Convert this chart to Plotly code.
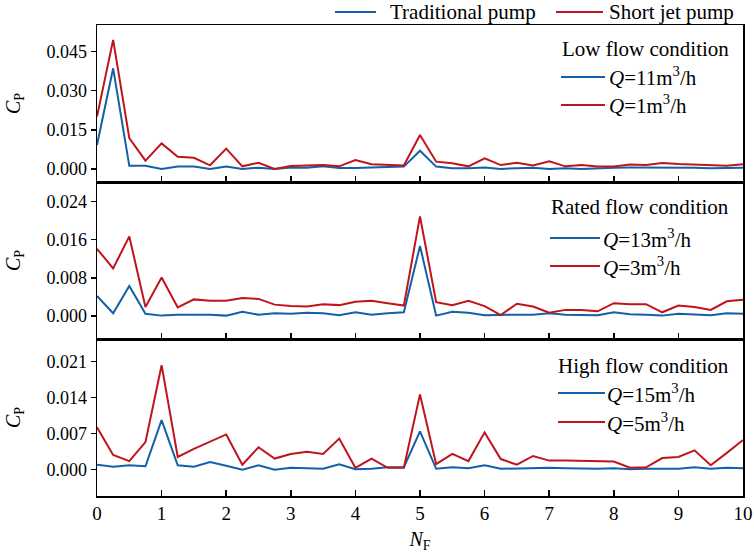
import plotly.graph_objects as go
from plotly.subplots import make_subplots

NF = [0, 0.25, 0.5, 0.75, 1, 1.25, 1.5, 1.75, 2, 2.25, 2.5, 2.75, 3, 3.25, 3.5, 3.75,
      4, 4.25, 4.5, 4.75, 5, 5.25, 5.5, 5.75, 6, 6.25, 6.5, 6.75, 7, 7.25, 7.5, 7.75,
      8, 8.25, 8.5, 8.75, 9, 9.25, 9.5, 9.75, 10]

low_trad = [0.0092, 0.0386, 0.0012, 0.0012, 0.0000,
            0.0009, 0.0009, 0.0000, 0.0009,
            0.0000, 0.0005, 0.0000, 0.0006,
            0.0005, 0.0010, 0.0004, 0.0004,
            0.0006, 0.0009, 0.0009, 0.0070,
            0.0009, 0.0003, 0.0003, 0.0006,
            0.0000, 0.0003, 0.0005, 0.0000,
            0.0003, 0.0000, 0.0003, 0.0005,
            0.0006, 0.0006, 0.0006, 0.0006,
            0.0005, 0.0003, 0.0003, 0.0005]
low_short = [0.0201, 0.0495, 0.0118, 0.0032, 0.0098,
             0.0047, 0.0043, 0.0014, 0.0078,
             0.0010, 0.0024, 0.0000, 0.0011,
             0.0013, 0.0015, 0.0010, 0.0034,
             0.0018, 0.0015, 0.0013, 0.0130,
             0.0028, 0.0022, 0.0010, 0.0041,
             0.0015, 0.0024, 0.0013, 0.0029,
             0.0010, 0.0015, 0.0009, 0.0009,
             0.0017, 0.0015, 0.0023, 0.0019,
             0.0017, 0.0013, 0.0012, 0.0018]

rated_trad = [0.0042, 0.0006, 0.0063, 0.0005, 0.0001,
              0.0003, 0.0003, 0.0003, 0.0001,
              0.0009, 0.0003, 0.0006, 0.0005,
              0.0007, 0.0006, 0.0002, 0.0008,
              0.0003, 0.0006, 0.0008, 0.0147,
              0.0001, 0.0009, 0.0007, 0.0002,
              0.0003, 0.0003, 0.0003, 0.0006,
              0.0003, 0.0002, 0.0002, 0.0008,
              0.0004, 0.0003, 0.0001, 0.0005,
              0.0003, 0.0002, 0.0006, 0.0005]
rated_short = [0.0141, 0.0100, 0.0167, 0.0019, 0.0081,
               0.0018, 0.0035, 0.0032, 0.0032,
               0.0038, 0.0036, 0.0024, 0.0021,
               0.0020, 0.0025, 0.0023, 0.0030,
               0.0032, 0.0027, 0.0022, 0.0209,
               0.0029, 0.0023, 0.0032, 0.0021,
               0.0002, 0.0026, 0.0020, 0.0007,
               0.0013, 0.0013, 0.0010, 0.0027,
               0.0025, 0.0025, 0.0008, 0.0022,
               0.0019, 0.0013, 0.0031, 0.0034]

high_trad = [0.0009, 0.0005, 0.0008, 0.0006, 0.0096,
             0.0008, 0.0005, 0.0014, 0.0007,
             -0.0001, 0.0008, -0.0001, 0.0003,
             0.0002, 0.0001, 0.0010, 0.0000,
             0.0001, 0.0004, 0.0004, 0.0074,
             0.0001, 0.0004, 0.0002, 0.0008,
             0.0001, 0.0002, 0.0003, 0.0003,
             0.0002, 0.0001, 0.0001, 0.0002,
             0.0000, 0.0001, 0.0001, 0.0001,
             0.0004, 0.0001, 0.0003, 0.0002]
high_short = [0.0082, 0.0028, 0.0016, 0.0053, 0.0203,
              0.0024, 0.0040, 0.0054, 0.0068,
              0.0009, 0.0043, 0.0021, 0.0030,
              0.0034, 0.0030, 0.0060, 0.0003,
              0.0021, 0.0003, 0.0003, 0.0146,
              0.0010, 0.0030, 0.0016, 0.0072,
              0.0020, 0.0009, 0.0026, 0.0017,
              0.0017, 0.0016, 0.0015, 0.0015,
              0.0003, 0.0004, 0.0022, 0.0024,
              0.0037, 0.0008, 0.0032, 0.0057]

series_names = ["Traditional pump", "Short jet pump"]
panel_titles = ["Low flow condition", "Rated flow condition", "High flow condition"]
trad_labels = ["<i>Q</i>=11m<sup>3</sup>/h", "<i>Q</i>=13m<sup>3</sup>/h", "<i>Q</i>=15m<sup>3</sup>/h"]
short_labels = ["<i>Q</i>=1m<sup>3</sup>/h", "<i>Q</i>=3m<sup>3</sup>/h", "<i>Q</i>=5m<sup>3</sup>/h"]
y_ranges = [[-0.005, 0.0552], [-0.0048, 0.0281], [-0.0052, 0.0254]]
y_dticks = [0.015, 0.008, 0.007]

BLUE = "#1460a8"
RED = "#c0141c"
FONT = "Liberation Serif"
W, H = 754, 557
ML, MR, MT, MB = 97, 11, 25, 61
PW, PH = W - ML - MR, H - MT - MB


def px(xp):
    return (xp - ML) / PW


def py(yp):
    return (H - MB - yp) / PH


fig = make_subplots(rows=3, cols=1, shared_xaxes=True, vertical_spacing=0)

series = [(low_trad, low_short), (rated_trad, rated_short), (high_trad, high_short)]
for i, (tr, sh) in enumerate(series):
    fig.add_trace(go.Scatter(x=NF, y=tr, mode="lines", name=trad_labels[i],
                             line=dict(color=BLUE, width=2), showlegend=False),
                  row=i + 1, col=1)
    fig.add_trace(go.Scatter(x=NF, y=sh, mode="lines", name=short_labels[i],
                             line=dict(color=RED, width=2), showlegend=False),
                  row=i + 1, col=1)

for i in range(3):
    fig.update_yaxes(row=i + 1, col=1, range=y_ranges[i], tick0=0, dtick=y_dticks[i],
                     tickformat=".3f", ticks="outside", ticklen=5, tickwidth=1.5,
                     tickcolor="black", showline=True, linecolor="black", linewidth=1.5,
                     mirror=True, showgrid=False, zeroline=False, automargin=False,
                     tickfont=dict(family=FONT, size=18, color="black"),
                     title=dict(text="<i>C</i><sub>P</sub>", standoff=20,
                                font=dict(family=FONT, size=20, color="black")))
    fig.update_xaxes(row=i + 1, col=1, range=[0, 10], tick0=0, dtick=1,
                     ticks="inside", ticklen=6, tickwidth=1.5, tickcolor="black",
                     showline=True, linecolor="black", linewidth=1.5, mirror=True,
                     showgrid=False, zeroline=False, automargin=False,
                     tickfont=dict(family=FONT, size=19, color="black"))
fig.update_xaxes(row=3, col=1, title=dict(text="<i>N</i><sub>F</sub>", standoff=8,
                                          font=dict(family=FONT, size=20, color="black")))

shapes = []
annotations = []
LFS = 21


def leg_item(x0, x1, y, color, text, tx):
    shapes.append(dict(type="line", xref="paper", yref="paper",
                       x0=px(x0), x1=px(x1), y0=py(y), y1=py(y),
                       line=dict(color=color, width=2)))
    annotations.append(dict(xref="paper", yref="paper", x=px(tx), y=py(y),
                            text=text, showarrow=False, xanchor="left", yanchor="middle",
                            font=dict(family=FONT, size=LFS, color="black")))


# top legend
leg_item(335, 376, 12, BLUE, series_names[0], 388)
leg_item(556, 603, 12, RED, series_names[1], 607)

# panel legends
title_y = [49, 207, 366]
item_y = [(77, 105), (238, 266), (393, 422)]
line_x = [(561, 605), (550, 600), (558, 605)]
text_x = [607, 601, 605]
for i in range(3):
    annotations.append(dict(xref="paper", yref="paper", x=px(731), y=py(title_y[i]),
                            text=panel_titles[i], showarrow=False,
                            xanchor="right", yanchor="middle",
                            font=dict(family=FONT, size=LFS, color="black")))
    leg_item(line_x[i][0], line_x[i][1], item_y[i][0], BLUE, trad_labels[i], text_x[i])
    leg_item(line_x[i][0], line_x[i][1], item_y[i][1], RED, short_labels[i], text_x[i])

fig.update_layout(
    width=W, height=H, autosize=False,
    margin=dict(l=ML, r=MR, t=MT, b=MB, autoexpand=False),
    plot_bgcolor="white", paper_bgcolor="white",
    font=dict(family=FONT, size=17, color="black"),
    showlegend=False, hovermode=False,
    shapes=shapes, annotations=annotations,
)

fig.write_html("out.html",
               config={"displayModeBar": False, "staticPlot": True},
               post_script="document.body.style.margin='0';document.body.style.overflow='hidden';")
